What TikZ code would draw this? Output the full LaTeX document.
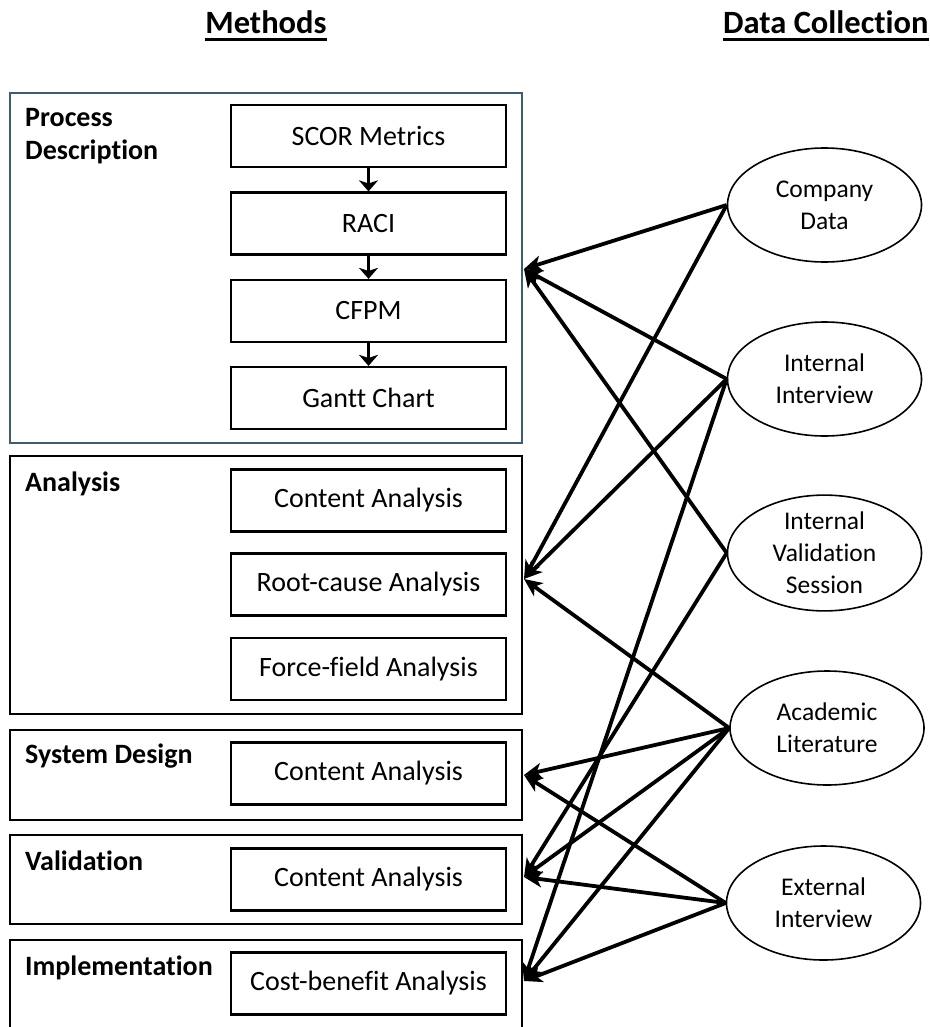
\documentclass[tikz,border=0pt]{standalone}
\usepackage{fontspec}
\setmainfont{Carlito}[Ligatures={NoCommon,NoContextual}]
\usetikzlibrary{arrows.meta,shapes.geometric}
\definecolor{pdblue}{RGB}{64,92,116}
\begin{document}
\begin{tikzpicture}[x=1pt,y=-1pt,
  outerbox/.style={draw,line width=2pt,inner sep=0pt},
  inbox/.style={draw,line width=2.2pt,minimum width=275pt,minimum height=62pt,inner sep=0pt,font=\fontsize{28}{33}\selectfont},
  grouplabel/.style={anchor=base west,inner sep=0pt,font=\bfseries\fontsize{28}{33}\selectfont},
  source/.style={draw,ellipse,line width=1.6pt,minimum width=194pt,minimum height=114pt,inner sep=0pt,align=center,font=\fontsize{25.5}{32}\selectfont},
  title/.style={inner sep=0pt,font=\bfseries\fontsize{32.5}{39}\selectfont},
  link/.style={line width=3.8pt,-{Stealth[length=18pt,width=16pt,inset=5pt]}},
  flow/.style={line width=3pt,-{Stealth[length=11pt,width=19pt,inset=3pt]}},
  uline/.style={line width=2.3pt}
]
\useasboundingbox (0,0) rectangle (929,1027);

% titles
\node[title,anchor=base] (mt) at (266,34) {Methods};
\draw[uline] ([yshift=-5.5pt]mt.base west) -- ([yshift=-5.5pt]mt.base east);
\node[title,anchor=base west] (dt) at (723,34) {Data Collection};
\draw[uline] ([yshift=-5.5pt]dt.base west) -- ([yshift=-5.5pt]dt.base east);

% group boxes
\node[outerbox,draw=pdblue,minimum width=512.5pt,minimum height=350pt] (pdbox) at (265.75,268) {};
\node[outerbox,minimum width=512.5pt,minimum height=258pt] (anbox) at (265.75,585) {};
\node[outerbox,minimum width=512.5pt,minimum height=90pt] (sdbox) at (265.75,775) {};
\node[outerbox,minimum width=512.5pt,minimum height=89pt] (vabox) at (265.75,879.5) {};
\node[outerbox,minimum width=512.5pt,minimum height=95pt] (imbox) at (265.75,987.5) {};

% group labels
\node[grouplabel] (lproc) at (25,127) {Process};
\node[grouplabel] (ldesc) at (25,160) {Description};
\node[grouplabel] (lan) at (25,491) {Analysis};
\node[grouplabel] (lsd) at (25,763) {System Design};
\node[grouplabel] (lva) at (25,870) {Validation};
\node[grouplabel] (lim) at (25,975) {Implementation};

% method boxes
\node[inbox] (scor) at (368.5,136) {SCOR Metrics};
\node[inbox] (raci) at (368.5,223.5) {RACI};
\node[inbox] (cfpm) at (368.5,311) {CFPM};
\node[inbox] (gantt) at (368.5,398) {Gantt Chart};
\node[inbox] (ca1) at (368.5,500.5) {Content Analysis};
\node[inbox] (rca) at (368.5,584.5) {Root-cause Analysis};
\node[inbox] (ffa) at (368.5,669) {Force-field Analysis};
\node[inbox] (ca2) at (368.5,773.5) {Content Analysis};
\node[inbox] (ca3) at (368.5,879.5) {Content Analysis};
\node[inbox] (cba) at (368.5,983.5) {Cost-benefit Analysis};

\draw[flow] (scor.south) -- (raci.north);
\draw[flow] (raci.south) -- (cfpm.north);
\draw[flow] (cfpm.south) -- (gantt.north);

% data sources
\node[source] (cd) at (824.5,205) {Company\\Data};
\node[source] (ii) at (824.5,379) {Internal\\Interview};
\node[source] (ivs) at (824.5,553) {Internal\\Validation\\Session};
\node[source] (al) at (827,728) {Academic\\Literature};
\node[source] (ei) at (823.5,903) {External\\Interview};

% arrow targets
\coordinate (p1) at (524,269);
\coordinate (p2) at (524,579);
\coordinate (p3) at (524,775);
\coordinate (p4) at (524,877);
\coordinate (p5) at (524,981);

\draw[link] (cd.west) -- (p1);
\draw[link] (cd.west) -- (p2);
\draw[link] (ii.west) -- (p1);
\draw[link] (ii.west) -- (p2);
\draw[link] (ii.west) -- (p5);
\draw[link] (ivs.west) -- (p1);
\draw[link] (ivs.west) -- (p4);
\draw[link] (al.west) -- (p2);
\draw[link] (al.west) -- (p3);
\draw[link] (al.west) -- (p4);
\draw[link] (al.west) -- (p5);
\draw[link] (ei.west) -- (p3);
\draw[link] (ei.west) -- (p4);
\draw[link] (ei.west) -- (p5);
\end{tikzpicture}
\end{document}
